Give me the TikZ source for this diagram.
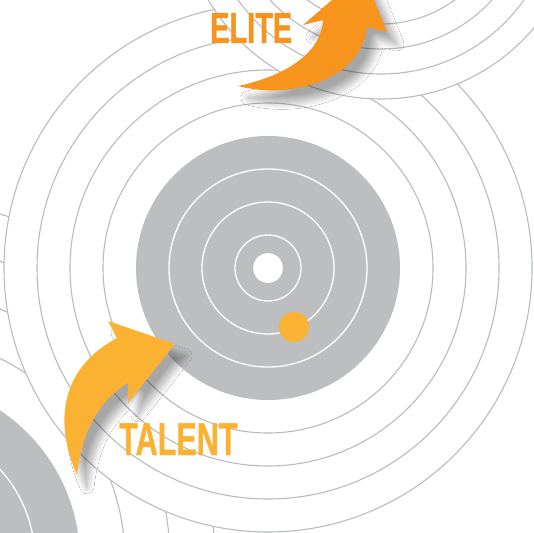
\documentclass[tikz,border=0pt]{standalone}
\usepackage{fontspec}
\newfontfamily\condfont[FakeStretch=0.665, FakeBold=0.8]{Liberation Sans}
\usetikzlibrary{shadows.blur}
\definecolor{diskgray}{HTML}{BCBEC0}
\definecolor{linegray}{HTML}{B9BBBD}
\definecolor{eliteorange}{HTML}{F7941D}
\definecolor{talentyellow}{HTML}{FBB131}
\tikzset{
  ringline/.style={draw=linegray, line width=1.1pt},
  innerring/.style={draw=white, line width=1.3pt},
  arrowshadow/.style={blur shadow={shadow xshift=10pt, shadow yshift=-12pt, shadow blur radius=7pt, shadow opacity=35, shadow blur steps=12}},
  labeltext/.style={inner sep=0pt, anchor=base west}
}
\newcommand\drawtarget[3]{%
  \fill[white] (#1,#2) circle[radius=8*#3pt];
  \foreach \k in {5,...,8} \draw[ringline] (#1,#2) circle[radius=\k*#3pt];
  \fill[diskgray] (#1,#2) circle[radius=4*#3pt];
  \foreach \k in {1,2,3} \draw[innerring] (#1,#2) circle[radius=\k*#3pt];
  \fill[white] (#1,#2) circle[radius=0.45*#3pt];
}
\begin{document}
\begin{tikzpicture}[x=1pt,y=-1pt]
\useasboundingbox (0,0) rectangle (534,532);
\clip (0,0) rectangle (534,532);
\fill[white] (0,0) rectangle (534,532);
% three target systems, back to front
\drawtarget{-100}{560}{45}
\drawtarget{268}{268}{33}
\drawtarget{381}{-101}{25}
% orange dot on central target
\fill[talentyellow] (294,327) circle[radius=15pt];
% ELITE arrow
\fill[eliteorange, arrowshadow] (238,86) .. controls (290,75) and (322,50) .. (323,20)
  -- (303,25) -- (363,-27) -- (387,32) -- (367,27)
  .. controls (362,80) and (290,100) .. (238,86) -- cycle;
% TALENT arrow
\fill[talentyellow, arrowshadow] (77,475) .. controls (55,425) and (58,370) .. (117,338)
  -- (108,321) -- (175,344) -- (128,403) -- (128,383)
  .. controls (100,400) and (82,430) .. (77,475) -- cycle;
% labels
\node[labeltext, text=eliteorange] (elite) at (210,43) {\fontsize{43.5}{44}\condfont\bfseries ELITE};
\node[labeltext, text=talentyellow] (talent) at (119,455) {\fontsize{46}{46}\condfont\bfseries TALENT};
\end{tikzpicture}
\end{document}
